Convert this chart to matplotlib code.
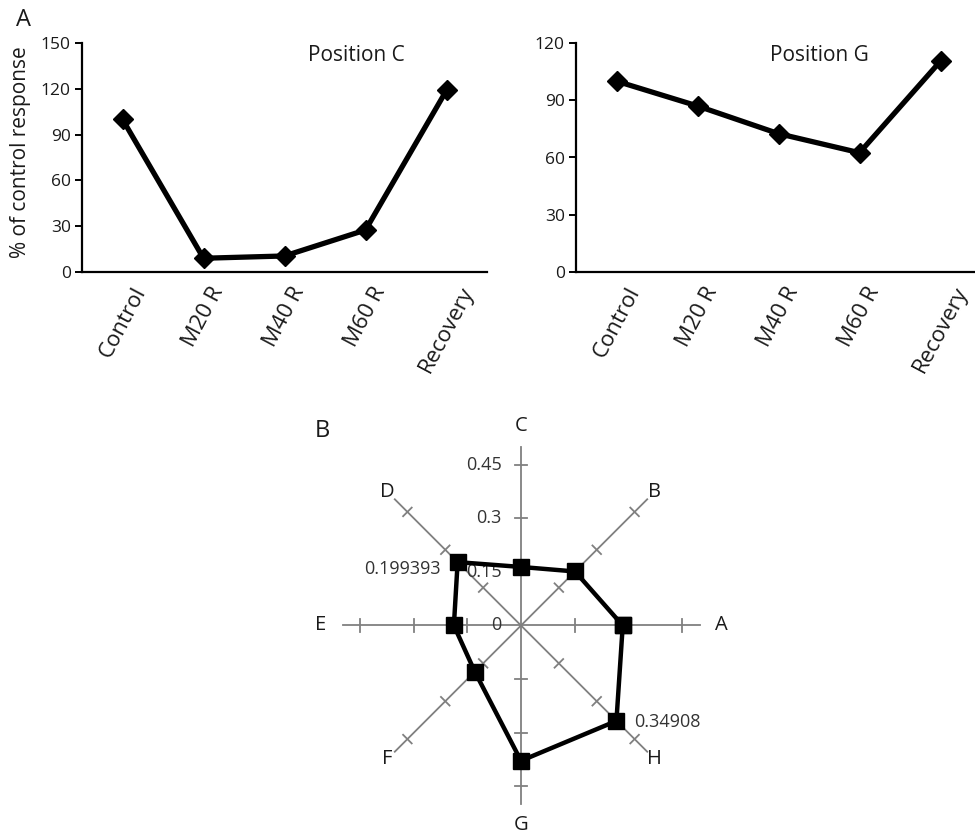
import numpy as np
import matplotlib
matplotlib.use("Agg")
import matplotlib.pyplot as plt

plt.rcParams['font.family'] = ['Open Sans', 'DejaVu Sans']

# ---- data ----
categories = ["Control", "M20 R", "M40 R", "M60 R", "Recovery"]
pos_c = [100, 9, 10.5, 27.5, 119]
pos_g = [100, 87, 72.5, 62.5, 110.5]
yticks_c = [0, 30, 60, 90, 120, 150]
yticks_g = [0, 30, 60, 90, 120]

radar_axes = ["A", "B", "C", "D", "E", "F", "G", "H"]
radar_vals = [0.285, 0.214, 0.164, 0.251, 0.188, 0.183, 0.379, 0.378]
radar_ticks = [0.15, 0.3, 0.45]
radar_tick_labels = ["0", "0.15", "0.3", "0.45"]
radar_max = 0.5
data_label_D = "0.199393"
data_label_H = "0.34908"

W, H = 975, 838
fig = plt.figure(figsize=(W / 100, H / 100), dpi=100)

def px_rect(x0, y0, x1, y1):
    return [x0 / W, 1 - y1 / H, (x1 - x0) / W, (y1 - y0) / H]

txt = '#1a1a1a'

def line_panel(rect, vals, yt, title, title_x):
    ax = fig.add_axes(rect)
    x = np.arange(len(categories))
    ax.plot(x, vals, color='black', lw=3.8, marker='D', markersize=10,
            solid_joinstyle='miter', zorder=3, clip_on=False)
    ax.set_xlim(-0.5, len(categories) - 0.5)
    ax.set_ylim(yt[0], yt[-1])
    ax.set_yticks(yt)
    ax.set_yticklabels([str(v) for v in yt], fontsize=12.5, color=txt)
    ax.set_xticks(x)
    ax.set_xticklabels(categories, fontsize=16, color=txt, rotation=62,
                       ha='center', va='top')
    ax.tick_params(axis='x', length=0, pad=8)
    ax.tick_params(axis='y', direction='out', length=5, width=1.4, pad=3)
    for s in ['top', 'right']:
        ax.spines[s].set_visible(False)
    for s in ['left', 'bottom']:
        ax.spines[s].set_linewidth(1.6)
    fig.text(title_x / W, 1 - 55.5 / H, title, fontsize=15, color=txt,
             ha='center', va='center')
    return ax

ax1 = line_panel(px_rect(82, 43, 487, 272), pos_c, yticks_c, "Position C", 356)
ax2 = line_panel(px_rect(576, 43, 981, 272), pos_g, yticks_g, "Position G", 819)

fig.text(21 / W, 1 - 152 / H, "% of control response", rotation=90,
         fontsize=15, color=txt, ha='center', va='center')
fig.text(23 / W, 1 - 20 / H, "A", fontsize=17, color=txt, ha='center', va='center')
fig.text(322 / W, 1 - 431 / H, "B", fontsize=17, color=txt, ha='center', va='center')

# ---- radar ----
cx, cy, scale = 521, 625.5, 357.0
half = 0.6 * scale
axr = fig.add_axes(px_rect(cx - half, cy - half, cx + half, cy + half))
axr.set_xlim(-0.6, 0.6)
axr.set_ylim(-0.6, 0.6)
axr.set_aspect('equal')
axr.axis('off')

n = len(radar_axes)
angles = np.deg2rad(np.arange(n) * 360.0 / n)
gray = '#808080'
tick_half = 0.017
for i, a in enumerate(angles):
    ux, uy = np.cos(a), np.sin(a)
    axr.plot([0, radar_max * ux], [0, radar_max * uy], color=gray, lw=1.3, zorder=1)
    for t in radar_ticks:
        px, py = t * ux, t * uy
        axr.plot([px - tick_half * (-uy), px + tick_half * (-uy)],
                 [py - tick_half * ux, py + tick_half * ux],
                 color=gray, lw=1.3, zorder=1)
    rl = 0.56 if i % 2 == 0 else 0.53
    axr.text(rl * ux, rl * uy, radar_axes[i], fontsize=14.5, color=txt,
             ha='center', va='center')

xs = [v * np.cos(a) for v, a in zip(radar_vals, angles)]
ys = [v * np.sin(a) for v, a in zip(radar_vals, angles)]
axr.plot(xs + xs[:1], ys + ys[:1], color='black', lw=3.2, marker='s',
         markersize=12, solid_joinstyle='miter', zorder=3, clip_on=False)

for lab, r in zip(radar_tick_labels, [0] + radar_ticks):
    axr.annotate(lab, (0, r), xytext=(-14, 0), textcoords='offset points',
                 ha='right', va='center', fontsize=13, color='#333333', zorder=2)

iD = radar_axes.index("D")
iH = radar_axes.index("H")
axr.annotate(data_label_D, (xs[iD], ys[iD]), xytext=(-12, -5),
             textcoords='offset points', ha='right', va='center',
             fontsize=13, color='#333333', zorder=4)
axr.annotate(data_label_H, (xs[iH], ys[iH]), xytext=(13, -1),
             textcoords='offset points', ha='left', va='center',
             fontsize=13, color='#333333', zorder=4)

fig.savefig("out.png", dpi=100)
